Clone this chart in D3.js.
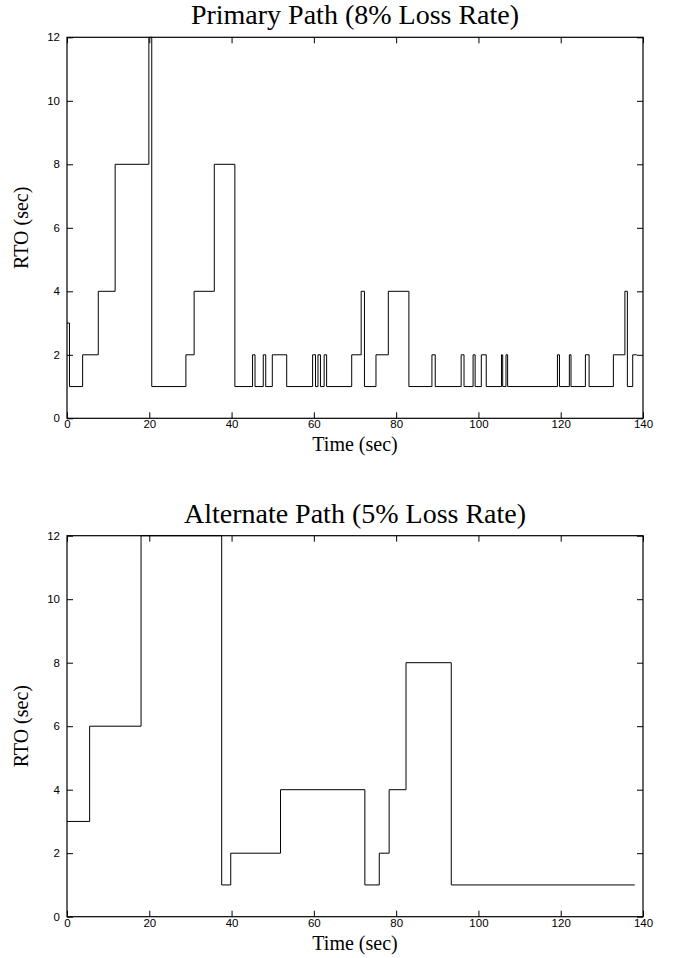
<!DOCTYPE html>
<html>
<head>
<meta charset="utf-8">
<script src="https://cdn.jsdelivr.net/npm/d3@7/dist/d3.min.js"></script>
<style>
  html, body { margin: 0; padding: 0; background: #fff; }
  svg { display: block; }
</style>
</head>
<body>
<svg id="chart" width="676" height="958"></svg>
<script>
// ---- Data ----
const xTicks = [0, 20, 40, 60, 80, 100, 120, 140];
const yTicks = [0, 2, 4, 6, 8, 10, 12];

const primaryTitle = "Primary Path (8% Loss Rate)";
const primaryTimes = [0, 0.6, 3.8, 7.6, 11.7, 19.9, 20.6, 28.9, 30.9, 35.8, 40.8, 45.1, 45.7, 47.7, 48.3, 49.9, 53.4, 59.7, 60.4, 61.0, 61.6, 62.5, 63.1, 69.2, 71.5, 72.3, 75.1, 78.1, 83.1, 88.7, 89.5, 95.8, 96.5, 98.7, 99.2, 100.7, 101.9, 105.6, 105.9, 106.7, 107.1, 119.2, 119.7, 122.1, 122.5, 126.0, 126.9, 132.8, 135.6, 136.2, 137.5, 138.5];
const primaryRTO   = [3, 1, 2, 4, 8, 12, 1, 2, 4, 8, 1, 2, 1, 2, 1, 2, 1, 2, 1, 2, 1, 2, 1, 2, 4, 1, 2, 4, 1, 2, 1, 2, 1, 2, 1, 2, 1, 2, 1, 2, 1, 2, 1, 2, 1, 2, 1, 2, 4, 1, 2, 2];

const alternateTitle = "Alternate Path (5% Loss Rate)";
const alternateTimes = [0, 5.5, 18.0, 37.6, 39.8, 51.9, 72.4, 75.9, 78.3, 82.4, 93.4, 138.0];
const alternateRTO   = [3, 6, 12, 1, 2, 4, 1, 2, 4, 8, 1, 1];

const xLabel = "Time (sec)";
const yLabel = "RTO (sec)";

// ---- Drawing ----
const svg = d3.select("#chart");
const left = 67, right = 643;
const serif = "'Liberation Serif', 'Times New Roman', serif";

function drawPanel(idx, title, times, values, top, bottom, titleY, xLabelY) {
  const g = svg.append("g");
  const x = d3.scaleLinear().domain([0, 140]).range([left, right]);
  const y = d3.scaleLinear().domain([0, 12]).range([bottom, top]);

  const clipId = "clip" + idx;
  svg.append("clipPath").attr("id", clipId)
    .append("rect").attr("x", left).attr("y", top - 1)
    .attr("width", right - left).attr("height", bottom - top + 2);

  const data = times.map((t, i) => ({ t, v: values[i] }));
  const line = d3.line().x(d => x(d.t)).y(d => y(d.v)).curve(d3.curveStepAfter);
  g.append("path").datum(data)
    .attr("clip-path", `url(#${clipId})`)
    .attr("fill", "none").attr("stroke", "#000").attr("stroke-width", 1)
    .attr("d", line);

  const tickFont = (sel) => sel.selectAll("text")
    .attr("font-family", "'Liberation Sans', Arial, Helvetica, sans-serif")
    .attr("font-size", 11.5).attr("fill", "#000");
  const clean = (sel) => { sel.select(".domain").remove(); sel.selectAll("line").attr("stroke", "#000"); };

  g.append("g").attr("transform", `translate(0,${bottom})`)
    .call(d3.axisBottom(x).tickValues(xTicks).tickSize(-6).tickPadding(2).tickFormat(d3.format("d")))
    .call(clean).call(tickFont);
  g.append("g").attr("transform", `translate(0,${top})`)
    .call(d3.axisTop(x).tickValues(xTicks).tickSize(-6).tickFormat(""))
    .call(clean);
  g.append("g").attr("transform", `translate(${left},0)`)
    .call(d3.axisLeft(y).tickValues(yTicks).tickSize(-6).tickPadding(7).tickFormat(d3.format("d")))
    .call(clean).call(tickFont);
  g.append("g").attr("transform", `translate(${right},0)`)
    .call(d3.axisRight(y).tickValues(yTicks).tickSize(-6).tickFormat(""))
    .call(clean);

  g.append("rect").attr("x", left).attr("y", top)
    .attr("width", right - left).attr("height", bottom - top)
    .attr("fill", "none").attr("stroke", "#000").attr("stroke-width", 1.2);

  g.append("text").attr("x", (left + right) / 2).attr("y", titleY)
    .attr("text-anchor", "middle")
    .attr("font-family", serif)
    .attr("font-size", 28).text(title);

  g.append("text").attr("x", (left + right) / 2).attr("y", xLabelY)
    .attr("text-anchor", "middle")
    .attr("font-family", serif)
    .attr("font-size", 20).text(xLabel);

  g.append("text")
    .attr("transform", `translate(28,${(top + bottom) / 2}) rotate(-90)`)
    .attr("text-anchor", "middle")
    .attr("font-family", serif)
    .attr("font-size", 20).text(yLabel);
}

drawPanel(0, primaryTitle, primaryTimes, primaryRTO, 37.3, 418.3, 24, 451);
drawPanel(1, alternateTitle, alternateTimes, alternateRTO, 535.7, 916.7, 523, 950);
</script>
</body>
</html>
